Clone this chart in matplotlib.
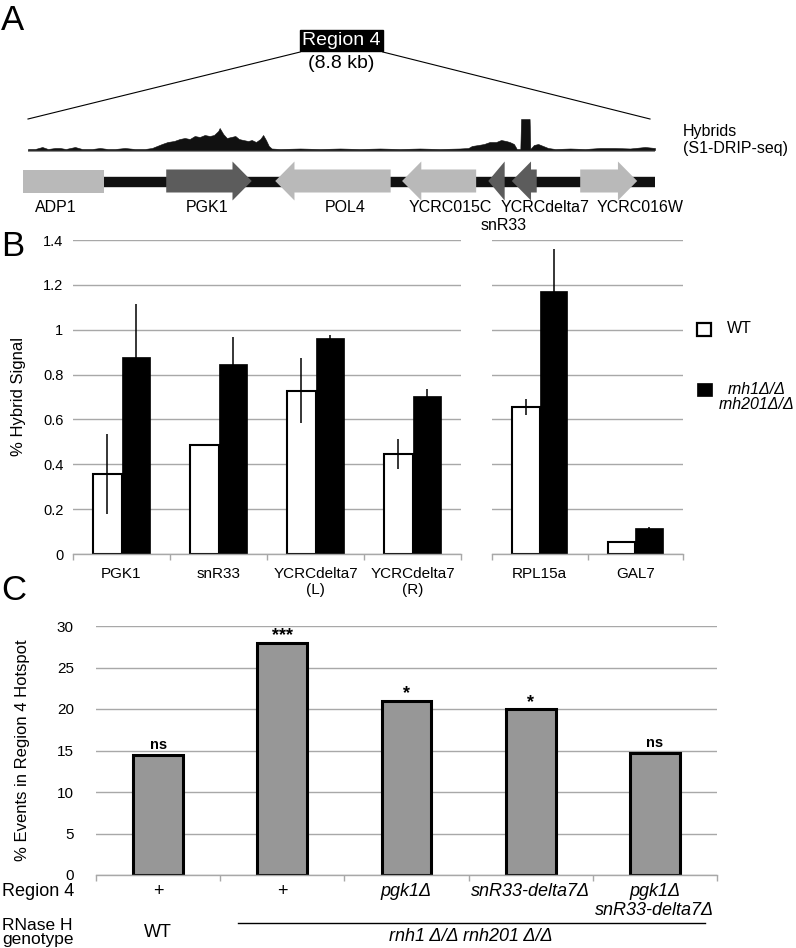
import matplotlib
matplotlib.use('Agg')
import matplotlib.pyplot as plt
from matplotlib.patches import Polygon, Rectangle
import matplotlib.transforms as mtransforms
import numpy as np

plt.rcParams['font.family'] = ['Liberation Sans', 'DejaVu Sans']

# ---------------- Panel A data ----------------
region_len_kb = 8.8
signal_pos_kb = [0.00, 0.10, 0.20, 0.28, 0.38, 0.45, 0.53, 0.66, 0.76, 0.90,
                 1.01, 1.12, 1.22, 1.36, 1.50, 1.64, 1.74, 1.81, 1.88, 1.96,
                 2.05, 2.13, 2.20, 2.27, 2.34, 2.41, 2.48, 2.55, 2.61, 2.67,
                 2.69, 2.74, 2.79, 2.85, 2.91, 2.96, 3.02, 3.09, 3.14, 3.20,
                 3.26, 3.30, 3.34, 3.38, 3.42, 3.54, 3.82, 4.10, 4.38, 4.66,
                 4.94, 5.22, 5.50, 5.78, 6.06, 6.18, 6.23, 6.32, 6.40, 6.48,
                 6.57, 6.64, 6.71, 6.76, 6.82, 6.86, 6.91, 6.92, 7.04, 7.05,
                 7.10, 7.16, 7.23, 7.30, 7.40, 7.61, 7.82, 8.03, 8.24, 8.45,
                 8.66, 8.80]
signal_height = [1, 1, 3, 1, 2, 2, 1, 3, 1, 1,
                 2, 1, 1, 2, 1, 1, 2, 4, 6, 8,
                 9, 11, 12, 11, 14, 13, 15, 14, 15, 19,
                 22, 16, 12, 13, 14, 11, 10, 9, 10, 8,
                 11, 15, 10, 4, 1.5, 1, 1.5, 1, 1.5, 1,
                 1.5, 1, 1.5, 1, 1.5, 2, 4, 5, 6, 8,
                 8, 10, 9, 8, 6, 1, 1, 31, 31, 1,
                 5, 6, 4, 2, 1, 1.5, 1, 2, 2, 1.5,
                 3, 2]

gene_names = ['ADP1', 'PGK1', 'POL4', 'YCRC015C', 'snR33', 'YCRCdelta7', 'YCRC016W']
gene_start = [-0.07, 1.94, 3.47, 5.25, 6.46, 6.79, 7.75]
gene_end = [1.07, 3.14, 5.09, 6.29, 6.69, 7.14, 8.55]
gene_strand = [0, 1, -1, -1, -1, -1, 1]
gene_dark = [False, True, False, False, True, True, False]
gene_label_x = [0.39, 2.51, 4.45, 5.92, 6.67, 7.26, 8.59]
gene_label_row = [0, 0, 0, 0, 1, 0, 0]

# ---------------- Panel B data ----------------
b_left_cats = ['PGK1', 'snR33', 'YCRCdelta7\n(L)', 'YCRCdelta7\n(R)']
b_left_wt = [0.357, 0.487, 0.727, 0.446]
b_left_wt_err = [0.178, 0.005, 0.145, 0.067]
b_left_ko = [0.878, 0.848, 0.965, 0.704]
b_left_ko_err = [0.235, 0.12, 0.01, 0.031]
b_right_cats = ['RPL15a', 'GAL7']
b_right_wt = [0.655, 0.053]
b_right_wt_err = [0.037, 0.0]
b_right_ko = [1.172, 0.116]
b_right_ko_err = [0.19, 0.004]
legend_labels = ['WT', 'rnh1Δ/Δ\nrnh201Δ/Δ']

# ---------------- Panel C data ----------------
c_cats = ['+', '+', 'pgk1Δ', 'snR33-delta7Δ', 'pgk1Δ\nsnR33-delta7Δ']
c_italic = [False, False, True, True, True]
c_values = [14.5, 28.0, 21.0, 20.0, 14.7]
c_sig = ['ns', '***', '*', '*', 'ns']
c_genotype_wt = 'WT'
c_genotype_mut = 'rnh1 Δ/Δ rnh201 Δ/Δ'

# ---------------- Figure ----------------
W, H = 796, 948
fig = plt.figure(figsize=(W / 100, H / 100), dpi=100)


def fx(x):
    return x / W


def fy(y):
    return 1 - y / H


def px_axes(x0, y0, x1, y1):
    return fig.add_axes([fx(x0), fy(y1), (x1 - x0) / W, (y1 - y0) / H])


GRID = '#a8a8a8'
LIGHT = '#b9b9b9'
DARK = '#5c5c5c'

# Panel letters
for letter, ypx in [('A', 21), ('B', 247), ('C', 591)]:
    fig.text(fx(1), fy(ypx), letter, fontsize=25, ha='left', va='center')

# ---------- Panel A: signal track ----------
axA = px_axes(28, 20, 655, 152)
axA.set_xlim(0, region_len_kb)
axA.set_ylim(-2, 130)
axA.axis('off')
axA.plot([0, region_len_kb], [-0.6, -0.6], color='#8a8a8a', lw=1.6, zorder=1,
         solid_capstyle='butt')
axA.fill_between(signal_pos_kb, 0, signal_height, facecolor='#111111',
                 edgecolor='#111111', lw=0.4, zorder=2)
mid = region_len_kb / 2
axA.text(mid, 109.5, 'Region 4', ha='center', va='center', color='white', fontsize=14,
         bbox=dict(boxstyle='square,pad=0.12', fc='black', ec='black'))
axA.text(mid, 86.5, '(8.8 kb)', ha='center', va='center', fontsize=14)
axA.plot([0, mid - 0.58], [31, 98], color='black', lw=0.8, clip_on=False)
axA.plot([mid + 0.58, region_len_kb - 0.07], [98, 31], color='black', lw=0.8, clip_on=False)
fig.text(fx(683), fy(140), 'Hybrids\n(S1-DRIP-seq)', ha='left', va='center', fontsize=11.5)

# ---------- Panel A: gene track ----------
axG = px_axes(28, 155, 655, 205)
axG.set_xlim(0, region_len_kb)
axG.set_ylim(-24, 26)
axG.axis('off')
axG.add_patch(Rectangle((0, -4.5), region_len_kb, 9, color='#111111', zorder=1))


def gene_poly(start, end, strand, head=0.27, body=11.5, hh=19.5):
    if strand == 0:
        return [(start, -body), (end, -body), (end, body), (start, body)]
    if strand == 1:
        neck = max(start, end - head)
        if neck <= start:
            return [(start, -hh), (end, 0), (start, hh)]
        return [(start, -body), (neck, -body), (neck, -hh), (end, 0),
                (neck, hh), (neck, body), (start, body)]
    neck = min(end, start + head)
    if neck >= end:
        return [(end, -hh), (start, 0), (end, hh)]
    return [(end, -body), (neck, -body), (neck, -hh), (start, 0),
            (neck, hh), (neck, body), (end, body)]


for s, e, st, dk in zip(gene_start, gene_end, gene_strand, gene_dark):
    axG.add_patch(Polygon(gene_poly(s, e, st), closed=True, facecolor=DARK if dk else LIGHT,
                          edgecolor='none', zorder=2, clip_on=False))
for name, lx, row in zip(gene_names, gene_label_x, gene_label_row):
    axG.text(lx, -27 - 17 * row, name, ha='center', va='center', fontsize=11.5, clip_on=False)


# ---------- Panel B ----------
def style_bar_axes(ax, n, ylab_size, ypad, show_yticks=True):
    for s in ['top', 'right', 'left']:
        ax.spines[s].set_visible(False)
    ax.spines['bottom'].set_color(GRID)
    ax.spines['bottom'].set_linewidth(1.0)
    ax.yaxis.grid(True, color=GRID, lw=1.0)
    ax.set_axisbelow(True)
    ax.set_xlim(-0.5, n - 0.5)
    ax.set_xticks(range(n))
    ax.set_xticks([i - 0.5 for i in range(n + 1)], minor=True)
    ax.tick_params(axis='x', which='major', length=0)
    ax.tick_params(axis='x', which='minor', length=4, color=GRID, width=1.0, direction='out')
    ax.tick_params(axis='y', length=0, labelsize=ylab_size, pad=ypad)
    if not show_yticks:
        ax.tick_params(axis='y', labelleft=False)


def draw_pairs(ax, cats, wt, wt_err, ko, ko_err):
    n = len(cats)
    x = np.arange(n)
    w = 0.29
    ax.bar(x - w / 2, wt, w, facecolor='white', edgecolor='black', lw=1.5, zorder=2)
    ax.bar(x + w / 2, ko, w, facecolor='black', edgecolor='black', lw=0.5, zorder=2)
    ax.errorbar(x - w / 2, wt, yerr=wt_err, fmt='none', ecolor='black', elinewidth=1.1,
                capsize=0, zorder=3)
    ax.errorbar(x + w / 2, ko, yerr=ko_err, fmt='none', ecolor='black', elinewidth=1.1,
                capsize=0, zorder=3)
    ax.set_xticklabels(cats, fontsize=11)
    ax.tick_params(axis='x', which='major', pad=9)


axBL = px_axes(73, 240, 461, 554)
axBL.set_ylim(0, 1.4)
axBL.set_yticks(np.arange(0, 1.41, 0.2))
axBL.set_yticklabels(['0', '0.2', '0.4', '0.6', '0.8', '1', '1.2', '1.4'])
style_bar_axes(axBL, len(b_left_cats), 10.5, 7)
draw_pairs(axBL, b_left_cats, b_left_wt, b_left_wt_err, b_left_ko, b_left_ko_err)

axBR = px_axes(492, 240, 683, 554)
axBR.set_ylim(0, 1.4)
axBR.set_yticks(np.arange(0, 1.41, 0.2))
style_bar_axes(axBR, len(b_right_cats), 10.5, 7, show_yticks=False)
draw_pairs(axBR, b_right_cats, b_right_wt, b_right_wt_err, b_right_ko, b_right_ko_err)

fig.text(fx(19), fy(397), '% Hybrid Signal', rotation=90, ha='center', va='center', fontsize=12)

# legend (manual)
fig.add_artist(Rectangle((fx(697), fy(336)), 14 / W, 13 / H, transform=fig.transFigure,
                         facecolor='white', edgecolor='black', lw=1.6))
fig.add_artist(Rectangle((fx(697), fy(396)), 15 / W, 13 / H, transform=fig.transFigure,
                         facecolor='black', edgecolor='black', lw=0.5))
fig.text(fx(727), fy(329), legend_labels[0], ha='left', va='center', fontsize=11.5)
fig.text(fx(757), fy(397), legend_labels[1], ha='center', va='center', fontsize=11.5,
         style='italic', linespacing=1.0, multialignment='center')

# ---------- Panel C ----------
axC = px_axes(96, 626, 717, 875)
axC.set_ylim(0, 30)
axC.set_yticks(range(0, 31, 5))
style_bar_axes(axC, len(c_cats), 11, 16)
xc = np.arange(len(c_cats))
axC.bar(xc, c_values, 0.40, facecolor='#979797', edgecolor='black', lw=2.2, zorder=2)
for i, (v, s) in enumerate(zip(c_values, c_sig)):
    if s.startswith('*'):
        axC.text(i, v - 0.2, s, ha='center', va='bottom', fontsize=13, fontweight='bold')
    else:
        axC.text(i, v + 0.35, s, ha='center', va='bottom', fontsize=10.5, fontweight='bold')
axC.set_xticklabels(c_cats, fontsize=13, linespacing=1.1)
for lab, it in zip(axC.get_xticklabels(), c_italic):
    if it:
        lab.set_fontstyle('italic')
axC.tick_params(axis='x', which='major', pad=6)

fig.text(fx(23), fy(750), '% Events in Region 4 Hotspot', rotation=90, ha='center',
         va='center', fontsize=12)
fig.text(fx(2), fy(891), 'Region 4', ha='left', va='center', fontsize=13)
fig.text(fx(2), fy(947), 'RNase H\ngenotype', ha='left', va='bottom', fontsize=12.5,
         linespacing=0.88)

blend = mtransforms.blended_transform_factory(axC.transData, fig.transFigure)
g_start, g_end = 1 - 0.36, len(c_cats) - 1 + 0.40
axC.plot([g_start, g_end], [fy(923), fy(923)], transform=blend, color='black', lw=1.0,
         clip_on=False)
axC.text(0, fy(937), c_genotype_wt, transform=blend, ha='center', va='baseline', fontsize=13)
axC.text((g_start + g_end) / 2, fy(941), c_genotype_mut, transform=blend, ha='center',
         va='baseline', fontsize=13, style='italic')

fig.savefig('out.png', dpi=100)
